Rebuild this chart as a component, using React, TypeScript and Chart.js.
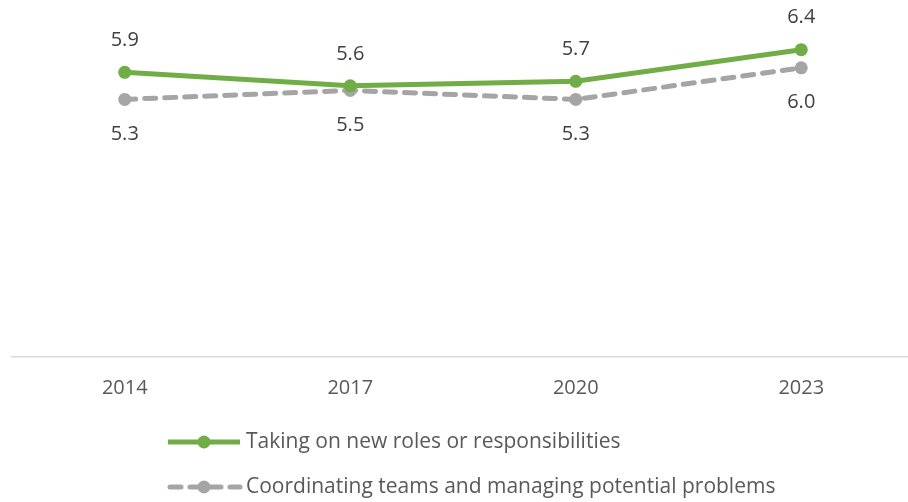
import React, { useEffect, useRef } from "react";
import { Chart, registerables } from "chart.js";

Chart.register(...registerables);

const categories = ["2014", "2017", "2020", "2023"];
const seriesNames = [
  "Taking on new roles or responsibilities",
  "Coordinating teams and managing potential problems",
];
const rolesValues = [5.9, 5.6, 5.7, 6.4];
const coordinatingValues = [5.3, 5.5, 5.3, 6.0];

const GREEN = "#70AD47";
const GRAY = "#A5A5A5";
const FONT = "'Open Sans', Lato, sans-serif";

const labelPlugin = {
  id: "pointLabels",
  afterDatasetsDraw(chart: any) {
    const ctx = chart.ctx;
    ctx.save();
    ctx.font = `20px ${FONT}`;
    ctx.fillStyle = "#404040";
    ctx.textAlign = "center";
    ctx.textBaseline = "middle";
    chart.data.datasets.forEach((ds: any, i: number) => {
      const meta = chart.getDatasetMeta(i);
      meta.data.forEach((pt: any, j: number) => {
        const v = ds.data[j];
        const dy = i === 0 ? -32 : 35;
        ctx.fillText(v.toFixed(1), pt.x, pt.y + dy);
      });
    });
    ctx.restore();
  },
};

const legendPlugin = {
  id: "customLegend",
  afterDraw(chart: any) {
    const ctx = chart.ctx;
    ctx.save();
    const rows = [442, 487];
    chart.data.datasets.forEach((ds: any, i: number) => {
      const y = rows[i];
      ctx.strokeStyle = ds.borderColor;
      ctx.lineWidth = 5;
      ctx.lineCap = i === 0 ? "butt" : "round";
      ctx.setLineDash(ds.borderDash || []);
      ctx.beginPath();
      if (i === 0) {
        ctx.moveTo(168, y);
        ctx.lineTo(240, y);
      } else {
        ctx.moveTo(170, y);
        ctx.lineTo(240, y);
      }
      ctx.stroke();
      ctx.setLineDash([]);
      ctx.fillStyle = ds.pointBackgroundColor;
      ctx.beginPath();
      ctx.arc(204, y, 6.5, 0, Math.PI * 2);
      ctx.fill();
      ctx.font = `21px ${FONT}`;
      ctx.fillStyle = "#595959";
      ctx.textAlign = "left";
      ctx.textBaseline = "middle";
      ctx.fillText(ds.label, 246, y);
    });
    ctx.restore();
  },
};

export default function App() {
  const ref = useRef<HTMLCanvasElement>(null);
  useEffect(() => {
    if (!ref.current) return;
    const chart = new Chart(ref.current, {
      type: "line",
      data: {
        labels: categories,
        datasets: [
          {
            label: seriesNames[0],
            data: rolesValues,
            borderColor: GREEN,
            backgroundColor: GREEN,
            pointBackgroundColor: GREEN,
            pointBorderColor: GREEN,
            borderWidth: 5,
            pointRadius: 6.5,
            pointBorderWidth: 0,
            tension: 0,
            order: 0,
          },
          {
            label: seriesNames[1],
            data: coordinatingValues,
            borderColor: GRAY,
            backgroundColor: GRAY,
            pointBackgroundColor: GRAY,
            pointBorderColor: GRAY,
            borderWidth: 5,
            borderDash: [11, 9],
            borderCapStyle: "round",
            pointRadius: 6.5,
            pointBorderWidth: 0,
            tension: 0,
            order: 1,
          },
        ],
      },
      options: {
        animation: false,
        responsive: false,
        maintainAspectRatio: false,
        layout: { autoPadding: false, padding: { left: 12, right: 0, top: 0, bottom: 0 } },
        plugins: {
          legend: { display: false },
          tooltip: { enabled: false },
        },
        scales: {
          y: {
            display: false,
            min: -0.4,
            max: 7.5,
          },
          x: {
            offset: true,
            grid: { display: false, drawTicks: false },
            border: { display: true, color: "#D9D9D9", width: 1.5 },
            ticks: {
              color: "#595959",
              font: { family: FONT, size: 20 },
              padding: 19,
            },
            afterFit(scale: any) {
              scale.height = 145;
            },
          },
        },
      },
      plugins: [labelPlugin, legendPlugin],
    });
    return () => chart.destroy();
  }, []);
  return (
    <div
      style={{
        position: "fixed",
        left: 0,
        top: 0,
        width: 908,
        height: 502,
        overflow: "hidden",
        background: "#fff",
      }}
    >
      <canvas ref={ref} width={914} height={502} style={{ display: "block" }} />
    </div>
  );
}
